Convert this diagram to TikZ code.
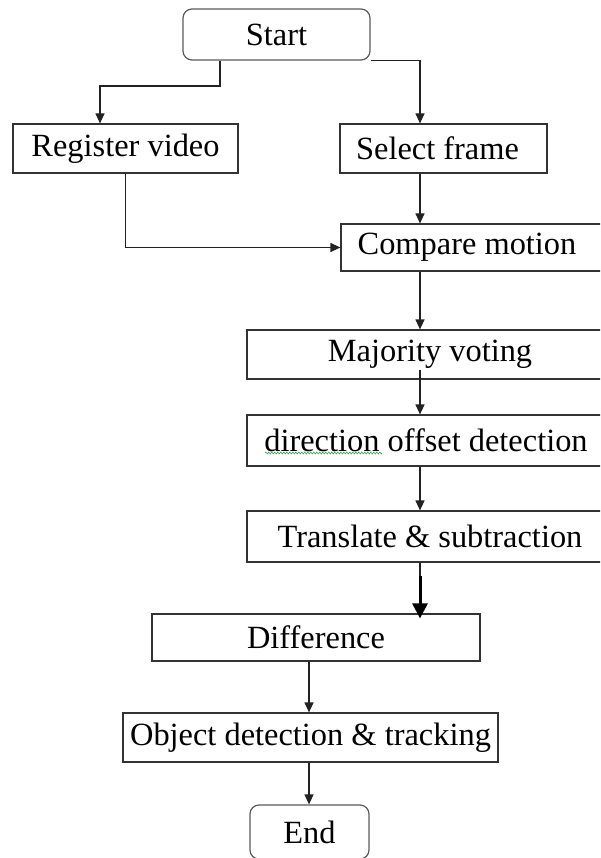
\documentclass[tikz,border=0pt]{standalone}
\usepackage{fontspec}
\setmainfont{Liberation Serif}
\usetikzlibrary{arrows.meta,calc,decorations.pathmorphing}
\definecolor{lineC}{HTML}{222222}
\definecolor{boxC}{HTML}{333333}
\definecolor{roundC}{HTML}{5A5A5A}
\definecolor{squig}{HTML}{3DAA5A}
\tikzset{
  box/.style={draw=boxC, line width=1.2pt, rectangle, inner sep=0pt, anchor=center,
    font=\fontsize{32.4}{38}\selectfont, text=black},
  term/.style={box, draw=roundC, rounded corners=9pt},
  arr/.style={draw=lineC, line width=1.2pt, -{Triangle[length=10pt,width=9pt]}},
  plain/.style={draw=lineC, line width=1.2pt},
  boldarr/.style={draw=black, line width=3pt, -{Triangle[length=15pt,width=15pt]}}
}
\begin{document}
\begin{tikzpicture}[x=1pt,y=-1pt]
\useasboundingbox (0,0) rectangle (600,858);
\clip (0,0) rectangle (600,858);

\node[term, minimum width=187pt, minimum height=51pt] (start) at (276.5,34.5) {Start};
\node[box, minimum width=225pt, minimum height=49pt] (reg) at (125.5,148.5) {Register video};
\node[box, minimum width=207pt, minimum height=49pt] (sel) at (443.5,148.5) {\hspace*{-12pt}Select frame};
\node[box, minimum width=279pt, minimum height=47pt,
      label={[font=\fontsize{32.4}{38}\selectfont, xshift=-13.5pt]center:Compare motion}] (cmp) at (480.5,247.5) {};
\node[box, minimum width=366pt, minimum height=49pt] (maj) at (430,354.5) {Majority voting};
\node[box, minimum width=358pt, minimum height=51pt] (dir) at (426,440.5) {direction offset detection};
\node[box, minimum width=366pt, minimum height=51pt] (tra) at (430,536.5) {Translate \& subtraction};
\node[box, minimum width=328pt, minimum height=47pt] (dif) at (316,637.5) {Difference};
\node[box, minimum width=375pt, minimum height=49pt] (obj) at (310.5,737.5) {Object detection \& tracking};
\node[term, minimum width=119pt, minimum height=54pt] (end) at (309.5,832) {End};

% spell-check squiggle under "direction"
\draw[squig, line width=0.6pt, decorate, decoration={zigzag, amplitude=1pt, segment length=3pt}]
  (265,453) -- (382,453);

\coordinate (xa) at (420,0);
\coordinate (xb) at (309,0);
\coordinate (k1) at (100,86);

\draw[arr] ([xshift=-56.5pt]start.south) |- (k1) -- (k1 |- reg.north);
\draw[arr] (start.south east) -| (sel.north -| xa);
\draw[arr] (sel.south -| xa) -- (cmp.north -| xa);
\draw[arr] (reg.south) |- (cmp.west);
\draw[arr] (cmp.south -| xa) -- (maj.north -| xa);
\draw[arr] ($(maj.south -| xa)+(0,-10)$) -- (dir.north -| xa);
\draw[arr] (dir.south -| xa) -- (tra.north -| xa);
\coordinate (t1) at ($(tra.south -| xa)+(0,13)$);
\draw[plain] (tra.south -| xa) -- (t1);
\draw[boldarr] (t1) -- ($(dif.north -| xa)+(0,5)$);
\draw[arr] (dif.south -| xb) -- (obj.north -| xb);
\draw[arr] (obj.south -| xb) -- (end.north -| xb);
\end{tikzpicture}
\end{document}
